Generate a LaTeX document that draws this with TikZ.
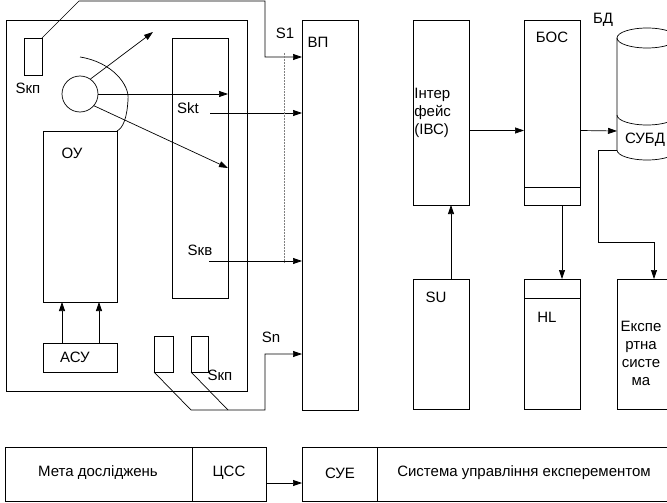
\documentclass[tikz,border=0pt]{standalone}
\usepackage{fontspec}
\setmainfont{Liberation Sans}
\usetikzlibrary{arrows.meta}
\def\WireX{265}
\def\BusX{284}

\begin{document}
\begin{tikzpicture}[x=1pt, y=-1pt, >={Triangle[length=9pt,width=6pt]},
  line width=0.7pt, font=\fontsize{15}{18}\selectfont,
  box/.style={draw, rectangle, anchor=north west, inner sep=0pt, outer sep=0pt},
  lbl/.style={inner sep=0pt}]
  \useasboundingbox (0,0) rectangle (667,503);
  \clip (0,0) rectangle (667,503);

  \node[box, minimum width=241, minimum height=371] (frame) at (6,20) {};
  \node[box, minimum width=18, minimum height=37] (skp) at (24,38) {};
  \node[lbl] at (28,88) {Sкп};
  \node[draw, circle, minimum size=36, inner sep=0pt] (obj) at (80,94) {};
  \node[box, minimum width=74, minimum height=171] (ou) at (43,131) {};
  \node[lbl] at (72,153) {ОУ};
  \node[box, minimum width=74, minimum height=29] (asu) at (43,343) {};
  \node[lbl] at (75,357) {АСУ};
  \node[box, minimum width=56, minimum height=260] (skt) at (172,38) {};
  \node[lbl] at (188,108) {Skt};
  \node[lbl] at (200,250) {Sкв};
  \node[box, minimum width=19, minimum height=36] (skpa) at (154,336) {};
  \node[box, minimum width=17, minimum height=36] (skpb) at (191,336) {};
  \node[lbl] at (220,375) {Sкп};
  \node[box, minimum width=56, minimum height=390] (vp) at (302,20) {};
  \node[lbl] at (318,42) {ВП};
  \node[lbl] at (285,33) {S1};
  \node[lbl] at (271,337) {Sn};

  \draw (80,57) .. controls (112,62) and (130,85) .. (128,100)
    .. controls (127,118) and (123,128) .. (ou.north east);
  \coordinate (up) at (153,32);
  \coordinate (ktip) at (228,168);
  \draw[->] (obj.55) -- (up);
  \draw[->] (obj.east) -- (obj.east -| skt.east);
  \draw[->] (obj.-40) -- (ktip);
  \draw[->] ([xshift=19pt]asu.north west) -- ([xshift=19pt]ou.south west);
  \draw[->] ([xshift=56pt]asu.north west) -- ([xshift=56pt]ou.south west);

  \coordinate (s1) at (\WireX,57);
  \draw[->] (skp.north east) -- (79,1) -| (s1) -- (s1 -| vp.west);
  \coordinate (kt) at (210,113);
  \draw[->] (kt) -- (kt -| vp.west);
  \coordinate (kv) at (209,261);
  \draw[->] (kv) -- (kv -| vp.west);
  \draw[densely dotted, line width=0.5pt, gray] (\BusX,53) -- (\BusX,263);
  \coordinate (sn) at (\WireX,354);
  \draw[->] (skpa.south west) -- (191,410) -- (\WireX,410) -- (sn) -- (sn -| vp.west);
  \draw (skpb.south west) -- (228,410);

  \node[box, minimum width=56, minimum height=185] (ivs) at (413,20) {};
  \node[lbl, anchor=west, align=left] at (414,113) {Інтер\\фейс\\(ІВС)};
  \node[box, minimum width=56, minimum height=185] (bos) at (524,20) {};
  \draw ([yshift=18pt]bos.south west) -- ([yshift=18pt]bos.south east);
  \node[lbl] at (552,37) {БОС};
  \node[box, minimum width=56, minimum height=130] (su) at (413,279) {};
  \node[lbl] at (436,297) {SU};
  \node[box, minimum width=56, minimum height=130] (hl) at (524,279) {};
  \draw ([yshift=-19pt]hl.north west) -- ([yshift=-19pt]hl.north east);
  \node[lbl] at (547,317) {HL};
  \node[box, minimum width=74, minimum height=130] (exp) at (617,279) {};
  \node[lbl, align=center] at (641,353) {Експе\\ртна\\систе\\ма};

  \draw (647,38) ellipse [x radius=30, y radius=10];
  \draw (617,38) -- (617,150) arc[start angle=180, end angle=0, x radius=30, y radius=10] -- (677,38);
  \draw (617,115) arc[start angle=180, end angle=0, x radius=30, y radius=10];
  \node[lbl] at (603,20) {БД};
  \node[lbl] at (645,140) {СУБД};
  \coordinate (db) at (617,131);
  \coordinate (dbl) at (617,150);

  \draw[->] ([xshift=10pt]su.north) -- ([xshift=10pt]ivs.south);
  \draw[->] ([yshift=-18pt]ivs.east) -- ([yshift=-18pt]bos.west);
  \draw[->] ([yshift=-18pt]bos.east) -- (db);
  \draw[->] ([xshift=10pt]bos.south) -- ([xshift=10pt]hl.north);
  \draw[->] (dbl) -| (598,242) -| (exp.north);

  \node[box, minimum width=261, minimum height=54] (goal) at (5,447) {};
  \draw ([xshift=187pt]goal.north west) -- ([xshift=187pt]goal.south west);
  \node[lbl] at (98,473) {Мета досліджень};
  \node[lbl] at (229,473) {ЦСС};
  \node[box, minimum width=400, minimum height=54] (sue) at (302,447) {};
  \draw ([xshift=75pt]sue.north west) -- ([xshift=75pt]sue.south west);
  \node[lbl] at (340,473) {СУЕ};
  \node[lbl] at (524,473) {Система управління експерементом};
  \draw[->] ([yshift=-9pt]goal.east) -- ([yshift=-9pt]sue.west);
\end{tikzpicture}
\end{document}
